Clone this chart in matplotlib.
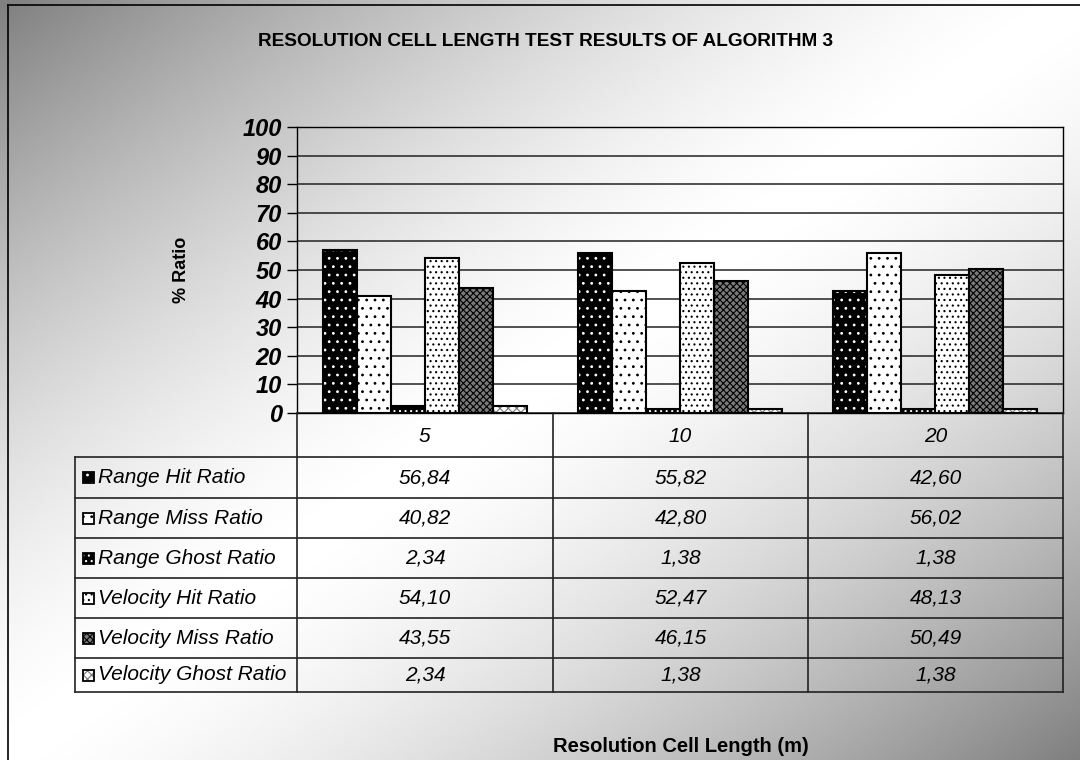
import numpy as np
import matplotlib.pyplot as plt
from matplotlib.patches import Rectangle
from matplotlib.lines import Line2D

plt.rcParams['font.family'] = ['Liberation Sans', 'DejaVu Sans']
plt.rcParams['hatch.linewidth'] = 0.8

# resolution cell lengths (m) and the six ratio series (%)
cell_lengths = ['5', '10', '20']
series_names = ['Range Hit Ratio', 'Range Miss Ratio', 'Range Ghost Ratio',
                'Velocity Hit Ratio', 'Velocity Miss Ratio', 'Velocity Ghost Ratio']
range_hit = [56.84, 55.82, 42.60]
range_miss = [40.82, 42.80, 56.02]
range_ghost = [2.34, 1.38, 1.38]
velocity_hit = [54.10, 52.47, 48.13]
velocity_miss = [43.55, 46.15, 50.49]
velocity_ghost = [2.34, 1.38, 1.38]
values = [range_hit, range_miss, range_ghost, velocity_hit, velocity_miss, velocity_ghost]

# face colour, hatch pattern, hatch colour per series
styles = [('black', '..', 'white'),
          ('white', '..', 'black'),
          ('black', '...', 'white'),
          ('white', '...', 'black'),
          ('#7a7a7a', 'xxxxx', 'black'),
          ('white', 'xxxx', '#777777')]

W, H = 1080, 760
fig = plt.figure(figsize=(W / 100, H / 100), dpi=100)

def fx(px):
    return px / W

def fy(py):
    return 1 - py / H

# diagonal grey -> white -> grey background
bg = fig.add_axes([0, 0, 1, 1], zorder=-10)
gx, gy = np.meshgrid(np.linspace(0, 1, 400), np.linspace(0, 1, 300))
t = (gx + gy) / 2
shade = 1 - 0.5 * np.clip(np.abs(t - 0.5) * 2, 0, 1) ** 1.5
bg.imshow(shade, cmap='gray', vmin=0, vmax=1, aspect='auto', extent=[0, 1, 1, 0])
bg.set_xlim(0, 1)
bg.set_ylim(1, 0)
bg.axis('off')

# outer frame (left and top edges)
fig.add_artist(Line2D([fx(8), fx(8)], [fy(5), fy(760)], color='black', lw=1.2))
fig.add_artist(Line2D([fx(8), fx(1080)], [fy(5), fy(5)], color='black', lw=1.2))

ax = fig.add_axes([fx(297), fy(413), fx(1063) - fx(297), fy(127) - fy(413)])
ax.patch.set_alpha(0)
x = np.arange(len(cell_lengths))
n = len(values)
bw = 0.8 / n
for i, (vals, (fc, hatch, hc)) in enumerate(zip(values, styles)):
    pos = x - 0.4 + bw * (i + 0.5)
    ax.bar(pos, vals, bw, color=fc, edgecolor=hc, hatch=hatch, linewidth=0, zorder=3)
    ax.bar(pos, vals, bw, fill=False, edgecolor='black', linewidth=1.5, zorder=4)

ax.set_xlim(-0.5, 2.5)
ax.set_ylim(0, 100)
ax.set_yticks(range(0, 101, 10))
ax.yaxis.grid(True, color='#222222', lw=1.1, zorder=1)
ax.set_axisbelow(True)
for lab in ax.get_yticklabels():
    lab.set_fontweight('bold')
    lab.set_fontstyle('italic')
    lab.set_fontsize(17)
ax.tick_params(axis='y', direction='out', length=7, width=1, pad=4)
ax.set_xticks(x)
ax.set_xticklabels(cell_lengths, fontsize=15, fontstyle='italic')
ax.tick_params(axis='x', length=0, pad=10)
for sp in ax.spines.values():
    sp.set_linewidth(1.0)
    sp.set_color('black')

ax.set_ylabel('% Ratio', fontsize=13, fontweight='bold')
ax.yaxis.set_label_coords((190 - 297) / 766, 0.5)

# data table under the plot
row_lines = [457, 498, 538, 578, 618, 658, 692]
col_lines = [297, 553, 808, 1063]
tl, tr = 75, 1063
for py in row_lines:
    fig.add_artist(Line2D([fx(tl), fx(tr)], [fy(py), fy(py)], color='#222222', lw=1.2))
for px in col_lines:
    fig.add_artist(Line2D([fx(px), fx(px)], [fy(413), fy(692)], color='#222222', lw=1.2))
fig.add_artist(Line2D([fx(tl), fx(tl)], [fy(457), fy(692)], color='#222222', lw=1.2))

for r, (name, vals, (fc, hatch, hc)) in enumerate(zip(series_names, values, styles)):
    yc = (row_lines[r] + row_lines[r + 1]) / 2
    fig.add_artist(Rectangle((fx(83), fy(yc + 5.5)), fx(11), fy(0) - fy(11),
                             facecolor=fc, edgecolor=hc, hatch=hatch, lw=0))
    fig.add_artist(Rectangle((fx(83), fy(yc + 5.5)), fx(11), fy(0) - fy(11),
                             fill=False, edgecolor='black', lw=1.3))
    fig.text(fx(98), fy(yc), name, fontsize=15, fontstyle='italic',
             ha='left', va='center')
    for c, v in enumerate(vals):
        cx = (col_lines[c] + col_lines[c + 1]) / 2
        fig.text(fx(cx), fy(yc), f'{v:.2f}'.replace('.', ','), fontsize=15,
                 fontstyle='italic', ha='center', va='center')

fig.text(fx(546), fy(42), 'RESOLUTION CELL LENGTH TEST RESULTS OF ALGORITHM 3',
         fontsize=13.7, fontweight='bold', ha='center', va='center')
fig.text(fx(681), fy(746), 'Resolution Cell Length (m)', fontsize=14.5,
         fontweight='bold', ha='center', va='center')

fig.savefig('out.png', dpi=100)
